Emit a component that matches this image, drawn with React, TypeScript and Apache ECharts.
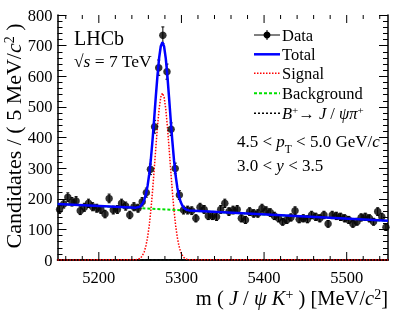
import React, { useEffect, useRef } from "react";
import * as echarts from "echarts";

const FONT = "Liberation Serif";

// Histogram: 5 MeV bins from 5150 to 5550
const massLow = 5150;
const binWidth = 5;
const counts = [
  165, 183, 205, 190, 193, 161, 172, 185, 174, 169,
  165, 150, 201, 163, 165, 185, 176, 147, 174, 169,
  190, 220, 296, 435, 628, 734, 615, 427, 299, 212,
  163, 163, 161, 136, 172, 165, 144, 144, 141, 165,
  185, 158, 163, 165, 136, 131, 158, 152, 152, 169,
  161, 155, 144, 136, 125, 131, 139, 161, 133, 136,
  133, 147, 141, 136, 147, 118, 147, 144, 141, 136,
  131, 118, 125, 139, 141, 136, 125, 158, 141, 107,
];

// Fit curves
const totalX = [
  5150, 5245, 5247, 5249, 5251, 5253, 5255, 5257, 5259, 5261, 5263, 5265, 5267,
  5269, 5271, 5273, 5275, 5277, 5279, 5281, 5283, 5285, 5287, 5289, 5291, 5293,
  5295, 5297, 5299, 5301, 5303, 5305, 5307, 5309, 5550,
];
const totalY = [
  183, 171, 172, 173, 177, 185, 196, 214, 242, 280, 329, 391, 461,
  534, 602, 660, 698, 711, 697, 659, 601, 531, 458, 388, 326, 275,
  237, 209, 190, 178, 170, 166, 163, 162, 128,
];
const signalX = totalX;
const signalY = [
  0, 1, 2, 4, 8, 16, 27, 46, 74, 112, 162, 224, 294,
  367, 436, 494, 532, 545, 532, 494, 436, 367, 294, 224, 162, 112,
  74, 46, 27, 16, 8, 4, 2, 1, 0,
];
const backgroundX = [5150, 5550];
const backgroundY = [183, 128];
const bpiX = [5150, 5550];
const bpiY = [1, 1];

const xMajorTicks = [5200, 5300, 5400, 5500];
const xMinorTicks = [
  5160, 5180, 5220, 5240, 5260, 5280, 5320, 5340, 5360, 5380,
  5420, 5440, 5460, 5480, 5520, 5540,
];

const zip = (xs: number[], ys: number[]) => xs.map((x, i) => [x, ys[i]]);

export default function App() {
  const ref = useRef<HTMLDivElement>(null);
  useEffect(() => {
    const chart = echarts.init(ref.current!, null, { renderer: "svg" });
    const dataPts = counts.map((c, i) => [massLow + binWidth * (i + 0.5), c, Math.sqrt(c)]);
    const tickData = [
      ...xMajorTicks.map((v) => [v, 0, 8]),
      ...xMinorTicks.map((v) => [v, 0, 4]),
    ];
    const axisLineStyle = { color: "#000", width: 1.5 };
    const labelStyle = { fontFamily: FONT, fontSize: 16.5, color: "#000" };
    const sup = { fontSize: 11, fontFamily: FONT, fill: "#000", verticalAlign: "top" as const };
    const it = { fontStyle: "italic" as const, fontFamily: FONT, fill: "#000" };

    const legendRows = [
      { y: 35, text: "Data" },
      { y: 54.3, text: "Total" },
      { y: 73.3, text: "Signal" },
      { y: 93.3, text: "Background" },
    ];
    const lx1 = 254, lx2 = 280, tx = 282;

    const option: any = {
      animation: false,
      grid: { left: 57.5, right: 21, top: 15, bottom: 50 },
      xAxis: [
        {
          type: "value", min: 5150, max: 5550, position: "bottom",
          axisLine: { lineStyle: axisLineStyle }, axisTick: { show: false },
          splitLine: { show: false },
          axisLabel: { ...labelStyle, margin: 9, showMinLabel: false, showMaxLabel: false, formatter: (v: number) => String(v) },
        },
        {
          type: "value", min: 5150, max: 5550, position: "top",
          axisLine: { lineStyle: axisLineStyle }, axisTick: { show: false },
          splitLine: { show: false }, axisLabel: { show: false },
        },
      ],
      yAxis: [
        {
          type: "value", min: 0, max: 800, interval: 100, position: "left",
          axisLine: { show: true, lineStyle: axisLineStyle },
          axisTick: { inside: true, length: 9, lineStyle: { color: "#000", width: 1 } },
          minorTick: { show: true, splitNumber: 5, length: 5, lineStyle: { color: "#000", width: 1 } },
          splitLine: { show: false },
          axisLabel: { ...labelStyle, margin: 5 },
        },
        {
          type: "value", min: 0, max: 800, interval: 100, position: "right",
          axisLine: { show: true, lineStyle: axisLineStyle },
          axisTick: { inside: true, length: 9, lineStyle: { color: "#000", width: 1 } },
          minorTick: { show: true, splitNumber: 5, length: 5, lineStyle: { color: "#000", width: 1 } },
          splitLine: { show: false }, axisLabel: { show: false },
        },
      ],
      series: [
        {
          type: "custom", name: "xticks", silent: true, clip: false,
          data: tickData,
          renderItem: (params: any, api: any) => {
            const v = api.value(0);
            const len = api.value(2);
            const cs = params.coordSys;
            const x = api.coord([v, 0])[0];
            const yb = cs.y + cs.height;
            const yt = cs.y;
            return {
              type: "group",
              children: [
                { type: "line", shape: { x1: x, y1: yb, x2: x, y2: yb - len }, style: { stroke: "#000", lineWidth: 1 } },
                { type: "line", shape: { x1: x, y1: yt, x2: x, y2: yt + len }, style: { stroke: "#000", lineWidth: 1 } },
              ],
            };
          },
          z: 5,
        },
        {
          type: "line", name: "B+ -> J/psi pi+", data: zip(bpiX, bpiY), showSymbol: false,
          lineStyle: { color: "#000", width: 1.5, type: [2, 2] }, z: 3,
        },
        {
          type: "line", name: "Signal", data: zip(signalX, signalY), showSymbol: false,
          lineStyle: { color: "#ff0000", width: 1.5, type: [1.5, 1.5] }, z: 3,
        },
        {
          type: "line", name: "Background", data: zip(backgroundX, backgroundY), showSymbol: false,
          lineStyle: { color: "#00e000", width: 2, type: [3, 2] }, z: 3,
        },
        {
          type: "custom", name: "Data errors",
          data: dataPts,
          renderItem: (params: any, api: any) => {
            const x = api.value(0), y = api.value(1), e = api.value(2);
            const t = api.coord([x, y + e]);
            const b = api.coord([x, y - e]);
            return {
              type: "group",
              children: [
                { type: "line", shape: { x1: t[0], y1: t[1], x2: b[0], y2: b[1] }, style: { stroke: "#000", lineWidth: 1 } },
                { type: "line", shape: { x1: t[0] - 1.5, y1: t[1], x2: t[0] + 1.5, y2: t[1] }, style: { stroke: "#000", lineWidth: 1 } },
                { type: "line", shape: { x1: b[0] - 1.5, y1: b[1], x2: b[0] + 1.5, y2: b[1] }, style: { stroke: "#000", lineWidth: 1 } },
              ],
            };
          },
          z: 4,
        },
        {
          type: "scatter", name: "Data", data: dataPts.map((d) => [d[0], d[1]]),
          symbol: "circle", symbolSize: 7.5, itemStyle: { color: "#000" }, z: 4,
        },
        {
          type: "line", name: "Total", data: zip(totalX, totalY), showSymbol: false,
          lineStyle: { color: "#0000ff", width: 2.5 }, z: 6,
        },
      ],
      graphic: [
        { type: "text", x: 74, y: 38, style: { text: "LHCb", fontFamily: FONT, fontSize: 20, fill: "#000", verticalAlign: "middle" } },
        {
          type: "text", x: 74, y: 61,
          style: { text: "√{i|s} = 7 TeV", fontFamily: FONT, fontSize: 17.5, fill: "#000", verticalAlign: "middle", rich: { i: { ...it, fontSize: 17.5 } } },
        },
        // legend samples
        { type: "line", shape: { x1: lx1, y1: 35, x2: lx2, y2: 35 }, style: { stroke: "#000", lineWidth: 1 } },
        { type: "line", shape: { x1: 267, y1: 30, x2: 267, y2: 40 }, style: { stroke: "#000", lineWidth: 1 } },
        { type: "circle", shape: { cx: 267, cy: 35, r: 3.5 }, style: { fill: "#000" } },
        { type: "line", shape: { x1: lx1, y1: 54.3, x2: lx2, y2: 54.3 }, style: { stroke: "#0000ff", lineWidth: 2.5 } },
        { type: "line", shape: { x1: lx1, y1: 73.3, x2: lx2, y2: 73.3 }, style: { stroke: "#ff0000", lineWidth: 1.5, lineDash: [1.5, 1.5] } },
        { type: "line", shape: { x1: lx1, y1: 93.3, x2: lx2, y2: 93.3 }, style: { stroke: "#00e000", lineWidth: 2, lineDash: [3, 2] } },
        { type: "line", shape: { x1: lx1, y1: 113.3, x2: lx2, y2: 113.3 }, style: { stroke: "#000", lineWidth: 1.5, lineDash: [2, 2] } },
        ...legendRows.map((r) => ({
          type: "text", x: tx, y: r.y,
          style: { text: r.text, fontFamily: FONT, fontSize: 16.5, fill: "#000", verticalAlign: "middle" },
        })),
        {
          type: "text", x: tx, y: 113.3,
          style: {
            text: "{i|B}{s|+}→ {i|J} / {i|ψπ}{s|+}", fontFamily: FONT, fontSize: 16.5, fill: "#000", verticalAlign: "middle",
            rich: { i: { ...it, fontSize: 16.5 }, s: sup },
          },
        },
        {
          type: "text", x: 237, y: 141.7,
          style: {
            text: "4.5 < {i|p}{t|T} < 5.0 GeV/{i|c}", fontFamily: FONT, fontSize: 17, fill: "#000", verticalAlign: "middle",
            rich: { i: { ...it, fontSize: 17 }, t: { fontSize: 11.5, fontFamily: FONT, fill: "#000", verticalAlign: "bottom", lineHeight: 27 } },
          },
        },
        {
          type: "text", x: 237, y: 165,
          style: {
            text: "3.0 < {i|y} < 3.5", fontFamily: FONT, fontSize: 17, fill: "#000", verticalAlign: "middle",
            rich: { i: { ...it, fontSize: 17 } },
          },
        },
        {
          type: "text", x: 388, y: 298,
          style: {
            text: "m ( {i|J} / {i|ψ} {i|K}{s|+} ) [MeV/{i|c}{s|2}]", fontFamily: FONT, fontSize: 20.5, fill: "#000",
            align: "right", verticalAlign: "middle",
            rich: { i: { ...it, fontSize: 20.5 }, s: { ...sup, fontSize: 14 } },
          },
        },
        {
          type: "text", x: 13, y: 136, rotation: Math.PI / 2,
          style: {
            text: "Candidates / ( 5 MeV/{i|c}{s|2} )", fontFamily: FONT, fontSize: 22, fill: "#000",
            align: "center", verticalAlign: "middle",
            rich: { i: { ...it, fontSize: 22 }, s: { ...sup, fontSize: 14 } },
          },
        },
      ],
    };
    chart.setOption(option);
    return () => chart.dispose();
  }, []);
  return <div ref={ref} style={{ position: "fixed", left: 0, top: 0, width: 409, height: 310 }} />;
}
